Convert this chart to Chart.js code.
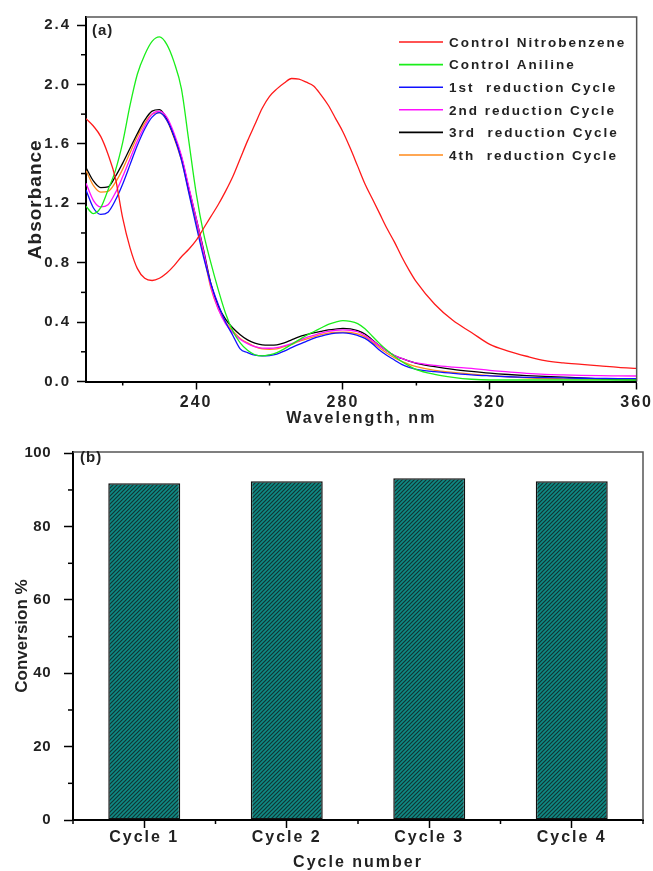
<!DOCTYPE html>
<html><head><meta charset="utf-8">
<script src="https://cdn.jsdelivr.net/npm/chart.js@4.4.1/dist/chart.umd.min.js"></script>
<style>
html,body{margin:0;padding:0;background:#fff;overflow:hidden;}
canvas{position:absolute;left:0;}
#c1{top:0;} #c2{top:430px;}
</style>
</head><body>
<canvas id="c1" width="653" height="430"></canvas>
<canvas id="c2" width="653" height="441"></canvas>
<script>
// ---------- Panel (a) data ----------
const wavelengths = [210,212,214,216,218,220,222,224,226,228,230,232,234,236,238,240,242,244,246,248,250,252,254,256,258,260,262,264,266,268,270,272,274,276,278,280,282,284,286,288,290,292,294,296,298,300,305,310,315,320,325,330,335,340,345,350,355,360];
const nitrobenzene = [1.77,1.72,1.65,1.53,1.37,1.10,0.90,0.76,0.695,0.68,0.695,0.73,0.78,0.84,0.89,0.95,1.03,1.11,1.19,1.28,1.38,1.50,1.62,1.73,1.84,1.92,1.97,2.01,2.04,2.035,2.015,1.99,1.93,1.86,1.77,1.68,1.57,1.45,1.33,1.23,1.13,1.03,0.94,0.84,0.75,0.67,0.52,0.41,0.33,0.25,0.205,0.17,0.14,0.125,0.115,0.105,0.095,0.088];
const aniline = [1.18,1.13,1.17,1.29,1.42,1.61,1.86,2.07,2.20,2.29,2.32,2.27,2.15,1.97,1.62,1.27,1.00,0.80,0.62,0.46,0.34,0.26,0.21,0.18,0.172,0.18,0.195,0.22,0.25,0.28,0.31,0.335,0.36,0.385,0.40,0.41,0.405,0.39,0.355,0.305,0.255,0.21,0.17,0.135,0.105,0.08,0.048,0.028,0.015,0.01,0.01,0.01,0.01,0.01,0.01,0.01,0.01,0.01];
const cycle1 = [1.29,1.17,1.125,1.14,1.22,1.33,1.46,1.59,1.70,1.78,1.81,1.76,1.65,1.49,1.27,1.05,0.84,0.66,0.52,0.40,0.31,0.22,0.195,0.177,0.172,0.175,0.185,0.205,0.228,0.25,0.27,0.29,0.305,0.318,0.325,0.327,0.323,0.31,0.29,0.255,0.21,0.175,0.145,0.115,0.095,0.082,0.066,0.055,0.045,0.038,0.032,0.028,0.026,0.024,0.022,0.021,0.02,0.02];
const cycle2 = [1.335,1.22,1.175,1.19,1.27,1.38,1.50,1.62,1.72,1.80,1.82,1.78,1.67,1.52,1.31,1.10,0.88,0.64,0.49,0.39,0.33,0.285,0.255,0.235,0.225,0.224,0.228,0.24,0.255,0.275,0.295,0.31,0.325,0.337,0.345,0.347,0.345,0.335,0.31,0.275,0.24,0.205,0.175,0.155,0.138,0.125,0.108,0.097,0.088,0.075,0.065,0.055,0.048,0.044,0.041,0.039,0.038,0.037];
const cycle3 = [1.44,1.35,1.305,1.31,1.38,1.47,1.57,1.67,1.76,1.82,1.83,1.77,1.65,1.51,1.30,1.10,0.89,0.66,0.51,0.42,0.36,0.315,0.28,0.258,0.247,0.245,0.247,0.26,0.28,0.30,0.315,0.328,0.338,0.347,0.353,0.357,0.355,0.342,0.32,0.28,0.24,0.205,0.175,0.155,0.137,0.122,0.10,0.082,0.068,0.056,0.047,0.04,0.035,0.03,0.024,0.018,0.012,0.01];
const cycle4 = [1.42,1.32,1.275,1.28,1.34,1.43,1.54,1.65,1.74,1.80,1.81,1.76,1.64,1.49,1.28,1.07,0.86,0.63,0.49,0.40,0.34,0.29,0.26,0.235,0.22,0.217,0.22,0.235,0.25,0.27,0.285,0.30,0.315,0.325,0.33,0.332,0.33,0.32,0.30,0.265,0.225,0.19,0.16,0.135,0.115,0.10,0.075,0.062,0.05,0.04,0.032,0.025,0.02,0.018,0.016,0.015,0.014,0.013];
const seriesLabels = ['Control Nitrobenzene','Control Aniline','1st  reduction Cycle','2nd reduction Cycle','3rd  reduction Cycle','4th  reduction Cycle'];
const xTicksA = [240,280,320,360];
const xMinorA = [220,260,300,340];
const yTicksA = [0.0,0.4,0.8,1.2,1.6,2.0,2.4];
const yMinorA = [0.2,0.6,1.0,1.4,1.8,2.2];

// ---------- Panel (b) data ----------
const cycles = ['Cycle 1','Cycle 2','Cycle 3','Cycle 4'];
const conversion = [91.8,92.4,93.2,92.4];
const yTicksB = [0,20,40,60,80,100];
const yMinorB = [10,30,50,70,90];
const xMinorB = [-0.5,0.5,1.5,2.5,3.5];

const FONT = '"Liberation Sans", Arial, sans-serif';
const TXT = '#222';

// per-method letter spacing on a scale instance
function spacing(scale, method, value){
  const key = '_ls_' + method;
  if (scale[key]) return;
  const f = scale[method];
  scale[method] = function(...args){
    const c = this.ctx; const old = c.letterSpacing;
    c.letterSpacing = value; f.apply(this, args); c.letterSpacing = old;
  };
  scale[key] = true;
}

const decor = {
  id: 'decor',
  beforeDraw(chart){ chart.ctx.letterSpacing = '2px'; },
  afterDraw(chart, args, o){
    const ctx = chart.ctx, a = chart.chartArea;
    ctx.save();
    ctx.letterSpacing = '2px';
    ctx.strokeStyle = '#555'; ctx.lineWidth = 1.5;
    ctx.beginPath(); ctx.moveTo(a.left, a.top); ctx.lineTo(a.right, a.top); ctx.lineTo(a.right, a.bottom); ctx.stroke();
    ctx.strokeStyle = '#000'; ctx.lineWidth = 1.5;
    const xs = chart.scales.x, ys = chart.scales.y;
    (o.minorX||[]).forEach(v => { const p = xs.getPixelForValue(v); ctx.beginPath(); ctx.moveTo(p, xs.top); ctx.lineTo(p, xs.top + o.minorLenX); ctx.stroke(); });
    (o.minorY||[]).forEach(v => { const p = ys.getPixelForValue(v); ctx.beginPath(); ctx.moveTo(ys.right, p); ctx.lineTo(ys.right - o.minorLenY, p); ctx.stroke(); });
    ctx.fillStyle = TXT; ctx.font = 'bold 15px ' + FONT; ctx.textBaseline = 'middle'; ctx.textAlign = 'left';
    ctx.letterSpacing = '1px';
    ctx.fillText(o.panel, o.panelX, o.panelY);
    if (o.legend) {
      ctx.letterSpacing = '2px';
      ctx.font = 'bold 13.5px ' + FONT;
      chart.data.datasets.forEach((ds, i) => {
        const y = o.legend.y + i * o.legend.step;
        ctx.strokeStyle = ds.borderColor; ctx.lineWidth = 1.6;
        ctx.beginPath(); ctx.moveTo(o.legend.x, y); ctx.lineTo(o.legend.x + 44, y); ctx.stroke();
        ctx.fillStyle = TXT; ctx.fillText(ds.label, o.legend.x + 50, y + 1);
      });
    }
    ctx.restore();
  }
};

// ---------- Chart (a) ----------
const lineColors = ['#ff1a1a','#1aee1a','#1010ff','#ff10ff','#000000','#ff8a1a'];
const lineData = [nitrobenzene, aniline, cycle1, cycle2, cycle3, cycle4];
new Chart(document.getElementById('c1'), {
  type: 'line',
  data: {
    labels: wavelengths,
    datasets: lineData.map((d, i) => ({
      label: seriesLabels[i],
      data: d.map((v, j) => ({x: wavelengths[j], y: v})),
      borderColor: lineColors[i], borderWidth: 1.3, pointRadius: 0,
      fill: false, cubicInterpolationMode: 'monotone'
    }))
  },
  options: {
    responsive: false, animation: false, devicePixelRatio: 1,
    layout: {padding: {left: 0, right: 16, top: 17, bottom: 0}},
    plugins: {
      legend: {display: false}, tooltip: {enabled: false},
      decor: {panel: '(a)', panelX: 92, panelY: 31, minorX: xMinorA, minorY: yMinorA, minorLenX: 4, minorLenY: 5,
              legend: {x: 399, y: 42, step: 22.6}}
    },
    scales: {
      x: {
        type: 'linear', min: 210, max: 360,
        afterBuildTicks: s => { s.ticks = xTicksA.map(v => ({value: v})); },
        afterFit: s => { s.height = 48.5; },
        border: {display: true, color: '#000', width: 2},
        grid: {drawOnChartArea: false, drawTicks: true, tickLength: 8, tickColor: '#000', tickWidth: 1.5},
        ticks: {autoSkip: false, maxRotation: 0, padding: 3, color: TXT, font: {family: FONT, size: 16, weight: 'bold'}, callback: v => String(v)},
        title: {display: true, text: 'Wavelength, nm', color: TXT, font: {family: FONT, size: 16, weight: 'bold'}, padding: {top: 0, bottom: 2}}
      },
      y: {
        type: 'linear', min: 0, max: 2.454,
        afterBuildTicks: s => { s.ticks = yTicksA.map(v => ({value: v})); },
        afterFit: s => { s.width = 86; spacing(s, 'drawTitle', '1px'); },
        border: {display: true, color: '#000', width: 2},
        grid: {drawOnChartArea: false, drawTicks: true, tickLength: 9, tickColor: '#000', tickWidth: 1.5},
        ticks: {autoSkip: false, padding: 6, color: TXT, font: {family: FONT, size: 15, weight: 'bold'}, callback: v => Number(v).toFixed(1)},
        title: {display: true, text: 'Absorbance', color: TXT, font: {family: FONT, size: 19, weight: 'bold'}, padding: {top: 24, bottom: 0}}
      }
    }
  },
  plugins: [decor]
});

// ---------- Chart (b) ----------
function hatch(){
  const p = document.createElement('canvas'); p.width = 4; p.height = 4;
  const c = p.getContext('2d');
  c.fillStyle = '#0f8a85'; c.fillRect(0, 0, 4, 4);
  c.strokeStyle = '#113533'; c.lineWidth = 1.2;
  c.beginPath();
  c.moveTo(0, 4); c.lineTo(4, 0);
  c.moveTo(-1, 1); c.lineTo(1, -1);
  c.moveTo(3, 5); c.lineTo(5, 3);
  c.stroke();
  return document.getElementById('c2').getContext('2d').createPattern(p, 'repeat');
}
new Chart(document.getElementById('c2'), {
  type: 'bar',
  data: {
    labels: cycles,
    datasets: [{label: 'Conversion %', data: conversion, backgroundColor: hatch(), borderColor: '#111', borderWidth: 1.5, borderSkipped: false, barPercentage: 0.505, categoryPercentage: 1}]
  },
  options: {
    responsive: false, animation: false, devicePixelRatio: 1,
    layout: {padding: {left: 0, right: 10, top: 12, bottom: 0}},
    plugins: {
      legend: {display: false}, tooltip: {enabled: false},
      decor: {panel: '(b)', panelX: 80, panelY: 28, minorX: xMinorB, minorY: yMinorB, minorLenX: 4, minorLenY: 5}
    },
    scales: {
      x: {
        type: 'category', offset: true,
        afterFit: s => { s.height = 51; },
        border: {display: true, color: '#000', width: 2},
        grid: {offset: false, drawOnChartArea: false, drawTicks: true, tickLength: 8, tickColor: '#000', tickWidth: 1.5},
        ticks: {autoSkip: false, maxRotation: 0, padding: 0, color: TXT, font: {family: FONT, size: 16, weight: 'bold'}},
        title: {display: true, text: 'Cycle number', color: TXT, font: {family: FONT, size: 16, weight: 'bold', lineHeight: 1}, padding: {top: 0, bottom: 0}}
      },
      y: {
        type: 'linear', min: 0, max: 100.35,
        afterBuildTicks: s => { s.ticks = yTicksB.map(v => ({value: v})); },
        afterFit: s => { s.width = 73; spacing(s, 'drawTitle', '0px'); spacing(s, 'drawLabels', '0.5px'); },
        border: {display: true, color: '#000', width: 2},
        grid: {drawOnChartArea: false, drawTicks: true, tickLength: 9, tickColor: '#000', tickWidth: 1.5},
        ticks: {autoSkip: false, padding: 13, color: TXT, font: {family: FONT, size: 15, weight: 'bold'}, callback: v => String(v)},
        title: {display: true, text: 'Conversion %', color: TXT, font: {family: FONT, size: 17, weight: 'bold'}, padding: {top: 12, bottom: 0}}
      }
    }
  },
  plugins: [decor]
});
</script>
</body></html>
